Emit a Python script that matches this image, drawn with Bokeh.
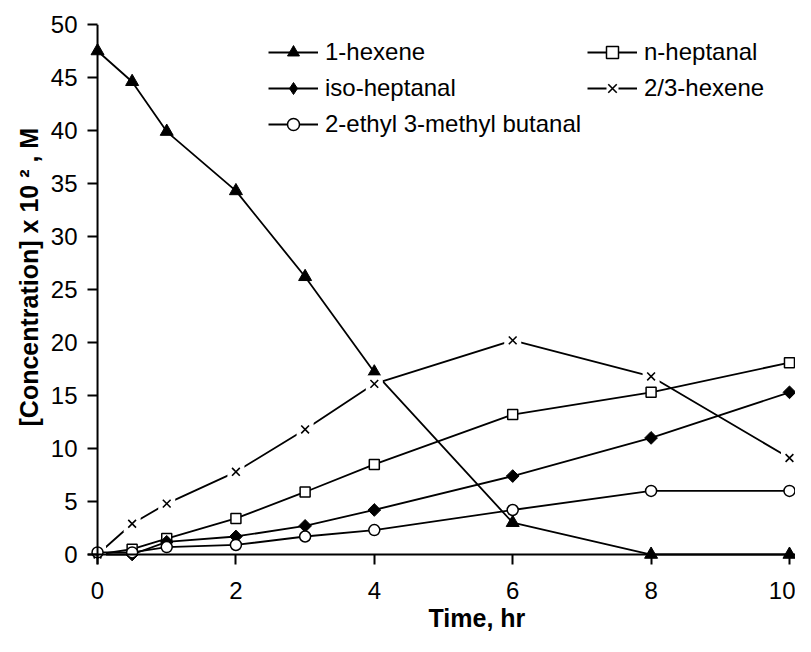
import math
from bokeh.plotting import figure
from bokeh.models import Range1d, FixedTicker, Span, Title, Legend, LegendItem
from bokeh.embed import file_html
from bokeh.resources import INLINE

# ---------------- data ----------------
time_hr = [0, 0.5, 1, 2, 3, 4, 6, 8, 10]
hexene_1 = [47.5, 44.6, 39.9, 34.3, 26.2, 17.2, 3.0, 0.0, 0.0]
n_heptanal = [0.0, 0.5, 1.5, 3.4, 5.9, 8.5, 13.2, 15.3, 18.1]
iso_heptanal = [0.0, 0.0, 1.2, 1.7, 2.7, 4.2, 7.4, 11.0, 15.3]
hexene_23 = [0.0, 2.9, 4.8, 7.8, 11.8, 16.1, 20.2, 16.8, 9.1]
ethyl_methyl_butanal = [0.2, 0.2, 0.7, 0.9, 1.7, 2.3, 4.2, 6.0, 6.0]

series_names = ["1-hexene", "n-heptanal", "iso-heptanal", "2/3-hexene",
                "2-ethyl 3-methyl butanal"]
x_ticks = [0, 2, 4, 6, 8, 10]
y_ticks = [0, 5, 10, 15, 20, 25, 30, 35, 40, 45, 50]
x_title = "Time, hr"
y_title = "[Concentration] x 10 \u00b2 , M"

FONT = "Liberation Sans"

p = figure(width=795, height=636, output_backend="svg", toolbar_location=None,
           x_range=Range1d(-0.145, 10.087), y_range=Range1d(-0.943, 50),
           min_border_left=87, min_border_right=0, min_border_top=24,
           min_border_bottom=72)
p.outline_line_color = None
p.grid.visible = False
p.background_fill_color = "white"

for ax in (p.xaxis[0], p.yaxis[0]):
    ax.axis_line_color = None
    ax.major_tick_in = 10
    ax.major_tick_out = 0
    ax.major_tick_line_width = 2
    ax.major_tick_line_color = "black"
    ax.minor_tick_line_color = None
    ax.major_label_text_font = FONT
    ax.major_label_text_font_size = "24px"
    ax.major_label_text_color = "black"
p.xaxis[0].ticker = FixedTicker(ticks=x_ticks)
p.yaxis[0].ticker = FixedTicker(ticks=y_ticks)
p.xaxis[0].major_label_standoff = 17
p.yaxis[0].major_label_standoff = 10

# axis lines crossing at zero
p.add_layout(Span(location=0, dimension="width", line_color="black", line_width=2))
p.add_layout(Span(location=0, dimension="height", line_color="black", line_width=2))

LW = 1.8
# 1-hexene
l1 = p.line(time_hr, hexene_1, line_color="black", line_width=LW)
s1 = p.scatter(time_hr, hexene_1, marker="triangle", size=13,
               fill_color="black", line_color="black")
# n-heptanal
l2 = p.line(time_hr, n_heptanal, line_color="black", line_width=LW)
s2 = p.scatter(time_hr, n_heptanal, marker="square", size=10,
               fill_color="white", line_color="black", line_width=1.5)
# iso-heptanal
l3 = p.line(time_hr, iso_heptanal, line_color="black", line_width=LW)
s3 = p.scatter(time_hr, iso_heptanal, marker="square", angle=math.pi / 4,
               size=9, fill_color="black", line_color="black")
# legend symbol for iso-heptanal (zero size on the chart itself)
s3_key = p.scatter(time_hr, iso_heptanal, marker="diamond", size=0,
                   fill_color="black", line_color="black")
# 2/3-hexene
l4 = p.line(time_hr, hexene_23, line_color="black", line_width=LW)
b4 = p.scatter(time_hr, hexene_23, marker="square", size=17,
               fill_color="white", line_color=None)
s4 = p.scatter(time_hr, hexene_23, marker="x", size=11,
               line_color="black", line_width=1.6)
# 2-ethyl 3-methyl butanal
l5 = p.line(time_hr, ethyl_methyl_butanal, line_color="black", line_width=LW)
s5 = p.scatter(time_hr, ethyl_methyl_butanal, marker="circle", size=11,
               fill_color="white", line_color="black", line_width=1.5)

leg_kw = dict(orientation="vertical", glyph_width=50, glyph_height=30,
              label_height=30, spacing=6, padding=0, margin=0,
              label_standoff=7, border_line_color=None,
              background_fill_alpha=0, label_text_font=FONT,
              label_text_font_size="24px", label_text_color="black")
leg1 = Legend(items=[LegendItem(label=series_names[0], renderers=[l1, s1]),
                     LegendItem(label=series_names[2], renderers=[l3, s3_key]),
                     LegendItem(label=series_names[4], renderers=[l5, s5])],
              location=(181, 425), **leg_kw)
leg2 = Legend(items=[LegendItem(label=series_names[1], renderers=[l2, s2]),
                     LegendItem(label=series_names[3], renderers=[l4, b4, s4])],
              location=(500, 461), **leg_kw)
p.add_layout(leg1)
p.add_layout(leg2)

p.add_layout(Title(text=x_title, align="left", offset=341, standoff=0,
                   text_font=FONT, text_font_size="25px",
                   text_font_style="bold", text_color="black"), "below")
p.add_layout(Title(text=y_title, align="left", offset=138, standoff=10,
                   text_font=FONT, text_font_size="25px",
                   text_font_style="bold", text_color="black"), "left")

open("out.html", "w").write(file_html(p, INLINE))
